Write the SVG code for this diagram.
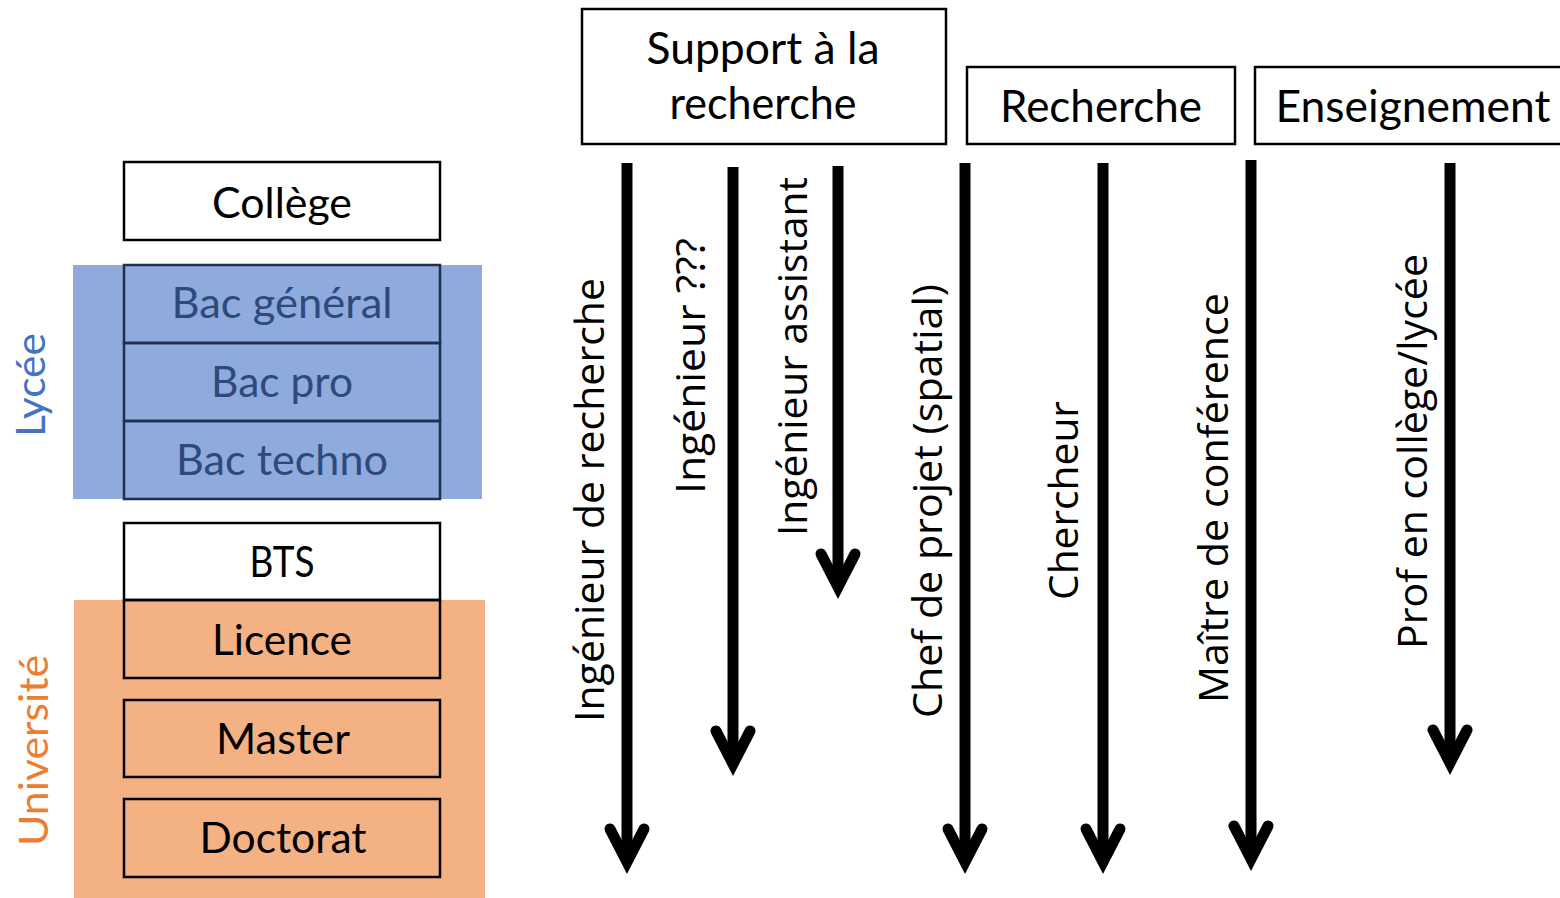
<svg xmlns="http://www.w3.org/2000/svg" width="1560" height="898" viewBox="0 0 1560 898">
<style>
.box{fill:#fff;stroke:#000;stroke-width:2.5}
.bbox{fill:none;stroke:#1E2F4F;stroke-width:2.5}
.obox{fill:none;stroke:#000;stroke-width:2.5}
.t{font-family:Lato,"Liberation Sans",sans-serif;font-size:43px;fill:#000;text-anchor:middle}
.h{font-family:Lato,"Liberation Sans",sans-serif;font-size:44px;fill:#000;text-anchor:middle}
.bt{fill:#2E4A7D}
.r{font-family:"Open Sans","Liberation Sans",sans-serif;font-size:41px;fill:#000}
.side{font-family:Lato,"Liberation Sans",sans-serif;font-size:40px}
.shaft{stroke:#000;stroke-width:11;fill:none}
.head{stroke:#000;stroke-width:11;fill:none;stroke-linecap:round;stroke-linejoin:miter;stroke-miterlimit:10}
</style>
<rect x="73" y="265" width="409" height="234" fill="#8FAADC"/>
<rect x="74" y="600" width="411" height="298" fill="#F4B183"/>
<text class="side" fill="#4472C4" transform="translate(45,437) rotate(-90)" textLength="104" lengthAdjust="spacingAndGlyphs">Lycée</text>
<text class="side" fill="#ED7D31" transform="translate(48,846) rotate(-90)" textLength="191" lengthAdjust="spacingAndGlyphs">Université</text>
<g id="college"><rect class="box" x="124" y="162" width="316" height="78"/><text class="t" x="282" y="218" textLength="140" lengthAdjust="spacingAndGlyphs">Collège</text></g>
<g id="bac-general"><rect class="bbox" x="124" y="265" width="316" height="78"/><text class="t bt" x="282" y="318" textLength="221" lengthAdjust="spacingAndGlyphs">Bac général</text></g>
<g id="bac-pro"><rect class="bbox" x="124" y="343" width="316" height="78"/><text class="t bt" x="282" y="397" textLength="142" lengthAdjust="spacingAndGlyphs">Bac pro</text></g>
<g id="bac-techno"><rect class="bbox" x="124" y="421" width="316" height="78"/><text class="t bt" x="282" y="475" textLength="212" lengthAdjust="spacingAndGlyphs">Bac techno</text></g>
<g id="bts"><rect class="box" x="124" y="523" width="316" height="77"/><text class="t" x="282" y="577" textLength="65" lengthAdjust="spacingAndGlyphs">BTS</text></g>
<g id="licence"><rect class="obox" x="124" y="600" width="316" height="78"/><text class="t" x="282" y="655" textLength="140" lengthAdjust="spacingAndGlyphs">Licence</text></g>
<g id="master"><rect class="obox" x="124" y="700" width="316" height="77"/><text class="t" x="283" y="754" textLength="134" lengthAdjust="spacingAndGlyphs">Master</text></g>
<g id="doctorat"><rect class="obox" x="124" y="799" width="316" height="78"/><text class="t" x="283" y="853" textLength="167" lengthAdjust="spacingAndGlyphs">Doctorat</text></g>
<g id="support"><rect class="box" x="582" y="9" width="364" height="135"/><text class="h" x="763" y="64" textLength="233" lengthAdjust="spacingAndGlyphs">Support à la</text><text class="h" x="763" y="119" textLength="187" lengthAdjust="spacingAndGlyphs">recherche</text></g>
<g id="recherche"><rect class="box" x="967" y="67" width="268" height="77"/><text class="h" x="1101" y="122" textLength="202" lengthAdjust="spacingAndGlyphs">Recherche</text></g>
<g id="enseignement"><rect class="box" x="1255" y="67" width="310" height="77"/><text class="h" x="1413" y="122" textLength="275" lengthAdjust="spacingAndGlyphs">Enseignement</text></g>
<g id="connectors">
<line class="shaft" x1="627" y1="163" x2="627" y2="862"/><path class="head" d="M610,829 L627,862 L644,829"/>
<line class="shaft" x1="733" y1="167" x2="733" y2="764"/><path class="head" d="M716,731 L733,764 L750,731"/>
<line class="shaft" x1="838" y1="166" x2="838" y2="587"/><path class="head" d="M821,554 L838,587 L855,554"/>
<line class="shaft" x1="965" y1="163" x2="965" y2="862"/><path class="head" d="M948,829 L965,862 L982,829"/>
<line class="shaft" x1="1103" y1="163" x2="1103" y2="862"/><path class="head" d="M1086,829 L1103,862 L1120,829"/>
<line class="shaft" x1="1251" y1="160" x2="1251" y2="859"/><path class="head" d="M1234,826 L1251,859 L1268,826"/>
<line class="shaft" x1="1450" y1="163" x2="1450" y2="763"/><path class="head" d="M1433,730 L1450,763 L1467,730"/>
</g>
<g id="labels">
<text class="r" transform="translate(604,722) rotate(-90)" textLength="444" lengthAdjust="spacingAndGlyphs">Ingénieur de recherche</text>
<text class="r" transform="translate(705,494) rotate(-90)" textLength="256" lengthAdjust="spacingAndGlyphs">Ingénieur ???</text>
<text class="r" transform="translate(807,536) rotate(-90)" textLength="359" lengthAdjust="spacingAndGlyphs">Ingénieur assistant</text>
<text class="r" transform="translate(942,718) rotate(-90)" textLength="434" lengthAdjust="spacingAndGlyphs">Chef de projet (spatial)</text>
<text class="r" transform="translate(1078,600) rotate(-90)" textLength="199" lengthAdjust="spacingAndGlyphs">Chercheur</text>
<text class="r" transform="translate(1228,703) rotate(-90)" textLength="410" lengthAdjust="spacingAndGlyphs">Maître de conférence</text>
<text class="r" transform="translate(1427,649) rotate(-90)" textLength="395" lengthAdjust="spacingAndGlyphs">Prof en collège/lycée</text>
</g>
</svg>
